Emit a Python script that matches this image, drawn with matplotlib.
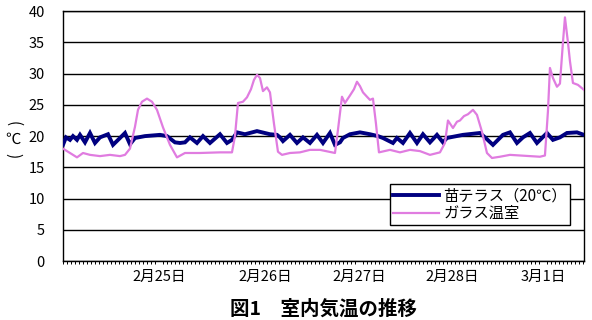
import matplotlib
matplotlib.use("Agg")
import matplotlib.pyplot as plt
from matplotlib.ticker import MultipleLocator

plt.rcParams['font.family'] = ['Noto Sans CJK JP', 'DejaVu Sans']

# hours since start of record
NAE_HOURS = [0, 0.75, 1.75, 2.5, 3.5, 4.25, 5.5, 6.75, 8, 9.25, 11.25, 12.5, 14.25,
             15.5, 16.75, 18, 20.5, 24.25, 26, 28, 29.25, 30.5, 31.75, 33.5, 35,
             36.75, 39.25, 41, 42.25, 43.5, 45.5, 48.5, 51.75, 53.5, 54.25, 55,
             56.75, 58.5, 60, 61.75, 63.5, 65, 66.75, 68, 69.25, 70, 71.75, 74.25,
             76.75, 78.75, 80, 82.5, 83.5, 85, 86.75, 88.5, 90, 91.75, 93.5, 95,
             96, 96.75, 100, 104.25, 105.5, 107.5, 110, 111.75, 113.5, 115, 116.75,
             118.5, 121, 122.5, 124.25, 126, 128.5, 130.25]
NAE_TEMP = [18.6, 19.8, 19.4, 20.0, 19.4, 20.2, 19.0, 20.5, 18.9, 19.8, 20.3, 18.6, 19.7,
            20.5, 18.7, 19.7, 20.0, 20.2, 20.0, 19.0, 18.9, 19.0, 19.8, 18.9, 20.0,
            18.9, 20.3, 18.9, 19.4, 20.6, 20.3, 20.8, 20.3, 20.2, 19.8, 19.2,
            20.2, 18.9, 19.8, 18.9, 20.2, 18.9, 20.5, 18.6, 19.0, 19.7, 20.3, 20.6,
            20.3, 20.0, 19.7, 18.9, 19.7, 18.9, 20.5, 18.9, 20.3, 19.0, 20.2, 19.0,
            19.7, 19.8, 20.2, 20.5, 19.8, 18.6, 20.2, 20.6, 18.9, 19.8, 20.5,
            18.9, 20.5, 19.4, 19.8, 20.5, 20.6, 20.2]

GLASS_HOURS = [0, 1.75, 3.5, 5, 6.75, 9.25, 11.75, 14.25, 15.5, 16.75, 18, 18.75,
               19.75, 21, 22.25, 23.5, 25, 26.75, 28.5, 30.5, 34.25, 39.25, 42.25,
               43, 43.75, 45, 46, 47, 47.75, 48.5, 49.25, 50, 51, 51.75, 52.75,
               53.75, 54.75, 56.75, 59.25, 61.75, 64.25, 68, 68.75, 69.75, 70.5,
               71.75, 72.75, 73.5, 74.25, 75, 76, 76.75, 77.5, 78.25, 79, 81.75,
               84.25, 86.75, 89.25, 91.75, 94.25, 95.5, 96.25, 97.5, 98.5, 99.25,
               100.25, 101.25, 102.5, 103.5, 104.75, 106, 107.25, 109.25, 111.75,
               114.25, 116.75, 119.25, 120.5, 121.25, 121.75, 122.5, 123.5, 124.25,
               125, 125.5, 126.25, 126.75, 127.5, 128.75, 130.25]
GLASS_TEMP = [18.0, 17.3, 16.6, 17.3, 17.0, 16.8, 17.0, 16.8, 17.0, 18.0, 21.5, 24.2,
              25.5, 26.0, 25.5, 24.2, 21.4, 18.6, 16.6, 17.3, 17.3, 17.4, 17.4,
              20.0, 25.3, 25.5, 26.2, 27.5, 29.0, 29.8, 29.3, 27.2, 27.8, 27.0, 22.0,
              17.5, 17.0, 17.3, 17.4, 17.8, 17.8, 17.3, 21.0, 26.3, 25.3,
              26.5, 27.5, 28.7, 28.0, 27.0, 26.3, 25.8, 26.0, 22.0, 17.4, 17.8,
              17.4, 17.8, 17.6, 17.0, 17.4, 18.9, 22.5, 21.3, 22.3, 22.5,
              23.2, 23.5, 24.2, 23.4, 20.7, 17.3, 16.5, 16.7, 17.0,
              16.9, 16.8, 16.7, 16.9, 24.0, 30.9, 29.3, 27.9, 28.4,
              35.0, 39.0, 35.0, 32.0, 28.5, 28.2, 27.4]

DAY_POS = [24, 50.5, 74, 97.25, 120]
DAY_LABELS = ["2月25日", "2月26日", "2月27日", "2月28日", "3月1日"]

fig = plt.figure(figsize=(5.92, 3.2), dpi=100)
ax = fig.add_axes([0.1064, 0.184, 0.880, 0.7813])

ax.plot(NAE_HOURS, NAE_TEMP, color="#000080", lw=2.8, label="苗テラス（20℃）",
        solid_joinstyle="miter", zorder=3)
ax.plot(GLASS_HOURS, GLASS_TEMP, color="#e07ce0", lw=1.6, label="ガラス温室", zorder=4)

ax.set_xlim(0, 130.25)
ax.set_ylim(0, 40)
ax.set_yticks(range(0, 41, 5))
ax.yaxis.grid(True, color="black", lw=1.0)
ax.set_axisbelow(True)
ax.set_xticks(DAY_POS)
ax.set_xticklabels(DAY_LABELS, fontsize=10.5)
ax.xaxis.set_minor_locator(MultipleLocator(1))
ax.tick_params(axis="x", which="major", length=0, pad=6)
ax.tick_params(axis="x", which="minor", length=2, width=0.7, direction="out")
ax.tick_params(axis="y", length=0, pad=13, labelsize=10.5)
for s in ax.spines.values():
    s.set_color("black")
    s.set_linewidth(1.0)

# vertical style unit label
fig.text(0.022, 0.615, "(", rotation=-90, ha="center", va="center", fontsize=11)
fig.text(0.022, 0.565, "℃", ha="center", va="center", fontsize=11)
fig.text(0.022, 0.515, ")", rotation=-90, ha="center", va="center", fontsize=11)

leg = ax.legend(loc="upper left", bbox_to_anchor=(0.628, 0.308), borderaxespad=0,
                fontsize=11, handlelength=3.0, handletextpad=0.3, labelspacing=0.05,
                borderpad=0.2, fancybox=False, framealpha=1, edgecolor="black")
leg.get_frame().set_linewidth(1.0)

fig.text(0.546, 0.035, "図1　室内気温の推移", ha="center", va="center",
         fontsize=14, fontweight="bold")

fig.savefig("out.png", dpi=100)
